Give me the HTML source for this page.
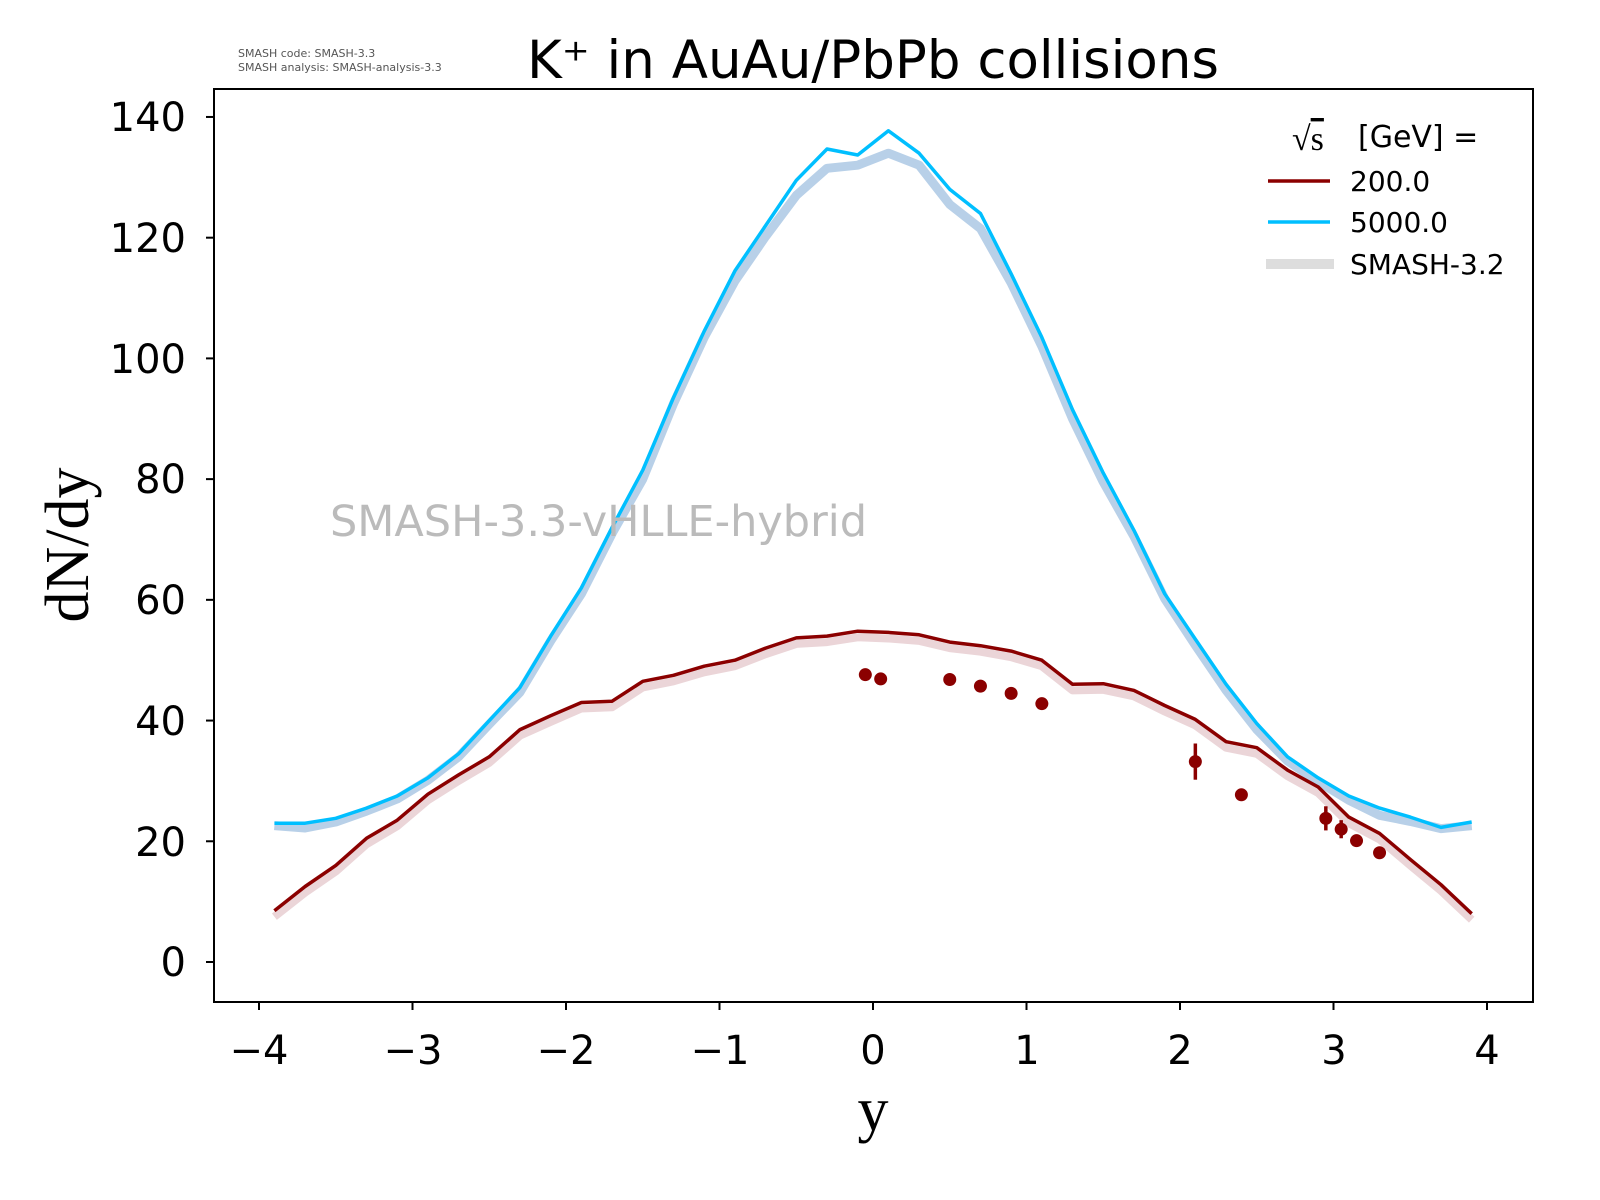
<!DOCTYPE html>
<html><head><meta charset="utf-8"><style>
html,body{margin:0;padding:0;background:#fff;}
svg{display:block;}
text{font-family:"DejaVu Sans","Liberation Sans",sans-serif;}
</style></head><body>
<svg id="s" width="1600" height="1200" xmlns="http://www.w3.org/2000/svg">
<rect width="1600" height="1200" fill="#fff"/>
<g id="plot"></g>
<rect x="214" y="89" width="1319" height="913" fill="none" stroke="#000" stroke-width="2"/>
<g stroke="#000" stroke-width="2" id="ticks"></g>
<g font-size="40" fill="#000" text-anchor="middle">
<text x="259" y="1064">−4</text><text x="413" y="1064">−3</text><text x="566" y="1064">−2</text>
<text x="720" y="1064">−1</text><text x="873" y="1064">0</text><text x="1027" y="1064">1</text>
<text x="1180" y="1064">2</text><text x="1334" y="1064">3</text><text x="1487" y="1064">4</text>
</g>
<g font-size="40" fill="#000" text-anchor="end">
<text x="186" y="976">0</text><text x="186" y="856">20</text><text x="186" y="735">40</text>
<text x="186" y="614">60</text><text x="186" y="493">80</text><text x="186" y="373">100</text>
<text x="186" y="252">120</text><text x="186" y="131">140</text>
</g>
<text x="873" y="78" font-size="53" text-anchor="middle">K⁺ in AuAu/PbPb collisions</text>
<text x="238" y="57" font-size="11" fill="#555">SMASH code:      SMASH-3.3</text>
<text x="238" y="71" font-size="11" fill="#555">SMASH analysis: SMASH-analysis-3.3</text>
<text x="873" y="1130" font-size="62" text-anchor="middle" style="font-family:'Liberation Serif',serif">y</text>
<text transform="translate(88,545) rotate(-90)" font-size="62" text-anchor="middle" style="font-family:'Liberation Serif',serif">dN/dy</text>
<text x="330" y="536" font-size="43" fill="#bbb">SMASH-3.3-vHLLE-hybrid</text>
<text x="1292" y="150" font-size="34" style="font-family:'Liberation Serif',serif">√<tspan text-decoration="overline">s</tspan></text>
<text x="1358" y="147" font-size="30">[GeV] =</text>
<line x1="1268" y1="181" x2="1330" y2="181" stroke="#8b0000" stroke-width="3.5"/>
<text x="1350" y="191" font-size="28">200.0</text>
<line x1="1268" y1="222" x2="1330" y2="222" stroke="#00bfff" stroke-width="3.5"/>
<text x="1350" y="232" font-size="28">5000.0</text>
<line x1="1266" y1="264" x2="1334" y2="264" stroke="#ddd" stroke-width="10"/>
<text x="1350" y="274" font-size="28">SMASH-3.2</text>
</svg>
<script>
var X=function(x){return 873+153.5*x;},Y=function(v){return 962-6.036*v;};
var xs=[];for(var i=0;i<40;i++)xs.push(-3.9+0.2*i);
var blue=[23,23,23.8,25.5,27.5,30.5,34.5,40,45.5,54,62,72,81.5,93.5,104.5,114.5,122,129.5,134.7,133.7,137.7,134,128,124,114,103.5,91.5,81,71.5,61,53.5,46,39.5,34,30.5,27.5,25.5,24,22.3,23.2];
var blue2=blue.map(function(v,i){var d=[0.4,0.8,0.6,0.5,0.5,0.4,0.5,0.6,0.8,0.8,1,1,1.5,1,1,1.7,1.8,2.5,3.2,1.7,3.7,2,2.5,2.5,1.5,1.5,1.5,1.5,1,0.8,1,1,1,0.7,0.6,0.7,1.2,0.7,0.2,0.6][i];return v-d;});
var red=[8.5,12.5,16,20.5,23.5,27.8,31,34,38.5,40.8,43,43.2,46.5,47.5,49,50,52,53.7,54,54.8,54.6,54.2,53,52.4,51.5,50,46,46.1,45,42.5,40.2,36.5,35.5,31.8,29,24,21.3,17,12.8,8];
var red2=red.map(function(v){return v-1;});
function pts(a){return a.map(function(v,i){return X(xs[i]).toFixed(1)+","+Y(v).toFixed(1);}).join(" ");}
var g=document.getElementById("plot"),ns="http://www.w3.org/2000/svg";
function pl(a,c,w){var p=document.createElementNS(ns,"polyline");p.setAttribute("points",pts(a));p.setAttribute("fill","none");p.setAttribute("stroke",c);p.setAttribute("stroke-width",w);p.setAttribute("stroke-linejoin","round");g.appendChild(p);}
pl(blue2,"#b8d0e8",9);pl(red2,"#ebd5d8",8);
pl(blue,"#00bfff",3.5);pl(red,"#8b0000",3.5);
var d=[[-0.05,47.6,0],[0.05,46.9,1],[0.5,46.8,0],[0.7,45.7,0],[0.9,44.5,0],[1.1,42.8,0],[2.1,33.2,3],[2.4,27.7,0.8],[2.95,23.8,2],[3.05,22,1.5],[3.15,20.1,0],[3.3,18.1,0]];
d.forEach(function(p){var c=document.createElementNS(ns,"circle");c.setAttribute("cx",X(p[0]));c.setAttribute("cy",Y(p[1]));c.setAttribute("r",6.5);c.setAttribute("fill","#8b0000");g.appendChild(c);
if(p[2]){var l=document.createElementNS(ns,"line");l.setAttribute("x1",X(p[0]));l.setAttribute("x2",X(p[0]));l.setAttribute("y1",Y(p[1]+p[2]));l.setAttribute("y2",Y(p[1]-p[2]));l.setAttribute("stroke","#8b0000");l.setAttribute("stroke-width",3.5);g.appendChild(l);}});
var t=document.getElementById("ticks");
for(var k=-4;k<=4;k++){var l=document.createElementNS(ns,"line");l.setAttribute("x1",X(k));l.setAttribute("x2",X(k));l.setAttribute("y1",1002);l.setAttribute("y2",1010);t.appendChild(l);}
for(var v=0;v<=140;v+=20){var l=document.createElementNS(ns,"line");l.setAttribute("x1",206);l.setAttribute("x2",214);l.setAttribute("y1",Y(v));l.setAttribute("y2",Y(v));t.appendChild(l);}
</script>
</body></html>
